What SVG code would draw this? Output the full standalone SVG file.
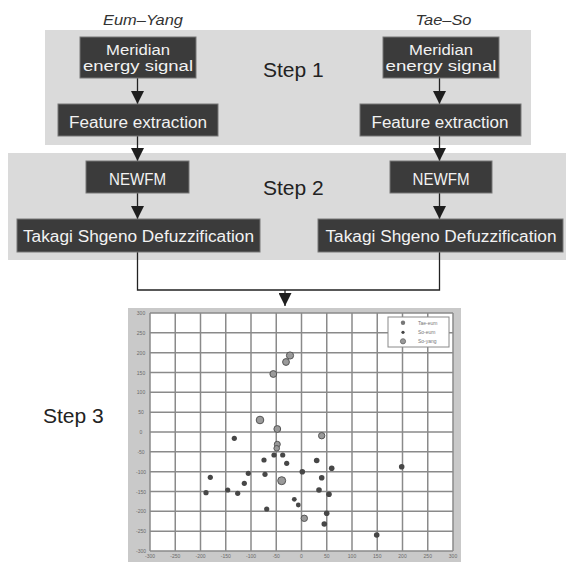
<svg xmlns="http://www.w3.org/2000/svg" width="568" height="563" viewBox="0 0 568 563">
<style>
.panel{fill:#dadada}
.box{fill:#3b3b3b;stroke:#777;stroke-width:1}
.bt{fill:#f2f2f2;font-family:"Liberation Sans",Arial,sans-serif;font-size:16px;text-anchor:middle}
.bt2{fill:#f2f2f2;font-family:"Liberation Sans",Arial,sans-serif;font-size:14px;text-anchor:middle}
.step{fill:#222;font-family:"Liberation Sans",Arial,sans-serif;font-size:21px}
.lab{fill:#333;font-family:"Liberation Sans",Arial,sans-serif;font-size:15px;font-style:italic;text-anchor:middle}
.con{stroke:#222;stroke-width:1.3;fill:none}
.grid{stroke:#8a8a8a;stroke-width:1.5}
.tick{fill:#6a6a6a;font-family:"Liberation Sans",Arial,sans-serif;font-size:5px;text-anchor:middle}
.d{fill:#474747}
.s{fill:#9a9a9a;stroke:#555;stroke-width:1}
.lg{fill:#777;font-family:"Liberation Sans",Arial,sans-serif;font-size:5px}
</style>
<defs>
<marker id="ah" viewBox="0 0 10 10" refX="10" refY="5" markerWidth="13" markerHeight="13" markerUnits="userSpaceOnUse" orient="auto">
<path d="M0,0 L10,5 L0,10 z" fill="#1e1e1e"/>
</marker>
</defs>
<rect width="568" height="563" fill="#fff"/>

<g id="panel-step1"><rect class="panel" x="45" y="30" width="486" height="115"/><text class="step" x="263" y="77">Step 1</text></g>
<g id="panel-step2"><rect class="panel" x="8" y="153" width="558" height="107"/><text class="step" x="263" y="195">Step 2</text></g>
<g id="label-step3"><text class="step" x="43" y="423">Step 3</text></g>

<g id="label-eumyang"><text class="lab" x="143" y="25" textLength="80" lengthAdjust="spacingAndGlyphs">Eum–Yang</text></g>
<g id="label-taeso"><text class="lab" x="443.5" y="25" textLength="56" lengthAdjust="spacingAndGlyphs">Tae–So</text></g>

<g id="connectors">
<line class="con" x1="137.5" y1="78" x2="137.5" y2="104" marker-end="url(#ah)"/>
<line class="con" x1="137.5" y1="136" x2="137.5" y2="161" marker-end="url(#ah)"/>
<line class="con" x1="137.5" y1="193" x2="137.5" y2="219" marker-end="url(#ah)"/>
<line class="con" x1="439.5" y1="78" x2="439.5" y2="104" marker-end="url(#ah)"/>
<line class="con" x1="439.5" y1="136" x2="439.5" y2="161" marker-end="url(#ah)"/>
<line class="con" x1="439.5" y1="193" x2="439.5" y2="219" marker-end="url(#ah)"/>
<polyline class="con" points="137.5,252 137.5,290 439.5,290 439.5,252"/>
<line class="con" x1="285" y1="290" x2="285" y2="306" marker-end="url(#ah)"/>
</g>

<g id="node-meridian-l"><rect class="box" x="80" y="37" width="116" height="41"/>
<text class="bt2" x="138" y="55" textLength="64" lengthAdjust="spacingAndGlyphs">Meridian</text>
<text class="bt2" x="138" y="71" textLength="110" lengthAdjust="spacingAndGlyphs">energy signal</text></g>
<g id="node-feature-l"><rect class="box" x="58" y="104" width="160" height="32"/>
<text class="bt" x="138" y="128" textLength="138" lengthAdjust="spacingAndGlyphs">Feature extraction</text></g>
<g id="node-newfm-l"><rect class="box" x="86" y="161" width="103" height="32"/>
<text class="bt" x="137.5" y="185" textLength="57" lengthAdjust="spacingAndGlyphs">NEWFM</text></g>
<g id="node-takagi-l"><rect class="box" x="17" y="219" width="243" height="33"/>
<text class="bt" x="138.5" y="241.5" textLength="231" lengthAdjust="spacingAndGlyphs">Takagi Shgeno Defuzzification</text></g>

<g id="node-meridian-r"><rect class="box" x="383" y="37" width="116" height="41"/>
<text class="bt2" x="441" y="55" textLength="64" lengthAdjust="spacingAndGlyphs">Meridian</text>
<text class="bt2" x="441" y="71" textLength="111" lengthAdjust="spacingAndGlyphs">energy signal</text></g>
<g id="node-feature-r"><rect class="box" x="360" y="104" width="161" height="32"/>
<text class="bt" x="440" y="128" textLength="137" lengthAdjust="spacingAndGlyphs">Feature extraction</text></g>
<g id="node-newfm-r"><rect class="box" x="390" y="161" width="102" height="32"/>
<text class="bt" x="441" y="185" textLength="57" lengthAdjust="spacingAndGlyphs">NEWFM</text></g>
<g id="node-takagi-r"><rect class="box" x="318" y="219" width="245" height="33"/>
<text class="bt" x="441" y="241.5" textLength="231" lengthAdjust="spacingAndGlyphs">Takagi Shgeno Defuzzification</text></g>

<g id="node-plot">
<rect x="128" y="308" width="333" height="254" fill="#c9c9c9"/>
<rect x="150" y="313" width="303" height="238" fill="#fff"/>
<g class="grid">
<line x1="150" y1="313" x2="150" y2="551"/><line x1="175.25" y1="313" x2="175.25" y2="551"/><line x1="200.5" y1="313" x2="200.5" y2="551"/><line x1="225.75" y1="313" x2="225.75" y2="551"/><line x1="251" y1="313" x2="251" y2="551"/><line x1="276.25" y1="313" x2="276.25" y2="551"/><line x1="301.5" y1="313" x2="301.5" y2="551"/><line x1="326.75" y1="313" x2="326.75" y2="551"/><line x1="352" y1="313" x2="352" y2="551"/><line x1="377.25" y1="313" x2="377.25" y2="551"/><line x1="402.5" y1="313" x2="402.5" y2="551"/><line x1="427.75" y1="313" x2="427.75" y2="551"/><line x1="453" y1="313" x2="453" y2="551"/>
<line x1="150" y1="313" x2="453" y2="313"/><line x1="150" y1="332.8" x2="453" y2="332.8"/><line x1="150" y1="352.7" x2="453" y2="352.7"/><line x1="150" y1="372.5" x2="453" y2="372.5"/><line x1="150" y1="392.3" x2="453" y2="392.3"/><line x1="150" y1="412.2" x2="453" y2="412.2"/><line x1="150" y1="432" x2="453" y2="432"/><line x1="150" y1="451.8" x2="453" y2="451.8"/><line x1="150" y1="471.7" x2="453" y2="471.7"/><line x1="150" y1="491.5" x2="453" y2="491.5"/><line x1="150" y1="511.3" x2="453" y2="511.3"/><line x1="150" y1="531.2" x2="453" y2="531.2"/><line x1="150" y1="551" x2="453" y2="551"/>
</g>
<g class="tick">
<text x="141" y="315">300</text><text x="141" y="334.8">250</text><text x="141" y="354.7">200</text><text x="141" y="374.5">150</text><text x="141" y="394.3">100</text><text x="141" y="414.2">50</text><text x="141" y="434">0</text><text x="141" y="453.8">-50</text><text x="141" y="473.7">-100</text><text x="141" y="493.5">-150</text><text x="141" y="513.3">-200</text><text x="141" y="533.2">-250</text><text x="141" y="553">-300</text>
<text x="150" y="558">-300</text><text x="175.25" y="558">-250</text><text x="200.5" y="558">-200</text><text x="225.75" y="558">-150</text><text x="251" y="558">-100</text><text x="276.25" y="558">-50</text><text x="301.5" y="558">0</text><text x="326.75" y="558">50</text><text x="352" y="558">100</text><text x="377.25" y="558">150</text><text x="402.5" y="558">200</text><text x="427.75" y="558">250</text><text x="453" y="558">300</text>
</g>
<g>
<circle class="s" cx="290" cy="355.5" r="3.6"/><circle class="s" cx="286" cy="362" r="3.4"/><circle class="s" cx="273.3" cy="374" r="3.4"/>
<circle class="s" cx="260" cy="420" r="3.8"/><circle class="s" cx="277.3" cy="429" r="3.4"/><circle class="s" cx="321.7" cy="435.7" r="3.2"/>
<circle class="s" cx="277.3" cy="444.3" r="3"/><circle class="s" cx="276.7" cy="448.3" r="2.8"/>
<circle class="s" cx="281.7" cy="480.7" r="4"/><circle class="s" cx="304.3" cy="518.3" r="3.2"/>
<circle class="d" cx="234.3" cy="438.3" r="2.6"/><circle class="d" cx="274" cy="455" r="2.6"/><circle class="d" cx="282.7" cy="455" r="2.6"/>
<circle class="d" cx="264" cy="460" r="2.6"/><circle class="d" cx="286.7" cy="463.3" r="2.6"/><circle class="d" cx="316.7" cy="460.5" r="2.8"/>
<circle class="d" cx="331.7" cy="468.3" r="2.8"/><circle class="d" cx="302.3" cy="471.7" r="2.8"/><circle class="d" cx="210.3" cy="477.3" r="2.6"/>
<circle class="d" cx="248.3" cy="473.3" r="2.6"/><circle class="d" cx="265" cy="474.3" r="2.6"/><circle class="d" cx="321.7" cy="477.7" r="2.8"/>
<circle class="d" cx="244.3" cy="483.3" r="2.6"/><circle class="d" cx="206" cy="492.7" r="2.6"/><circle class="d" cx="227.7" cy="490" r="2.6"/>
<circle class="d" cx="237.7" cy="493.3" r="2.6"/><circle class="d" cx="319" cy="490" r="2.8"/><circle class="d" cx="329" cy="494.3" r="2.8"/>
<circle class="d" cx="294.3" cy="499.3" r="2.4"/><circle class="d" cx="298.3" cy="505" r="2.4"/><circle class="d" cx="266.7" cy="509" r="2.6"/>
<circle class="d" cx="326.7" cy="513.3" r="2.8"/><circle class="d" cx="324.3" cy="524" r="2.8"/><circle class="d" cx="401.7" cy="466.7" r="2.8"/>
<circle class="d" cx="376.7" cy="535" r="2.8"/>
</g>
<rect x="388" y="317" width="61" height="30" fill="#fff" stroke="#8a8a8a" stroke-width="1"/>
<circle cx="403" cy="322.7" r="2.2" fill="#777"/><circle cx="403" cy="332.3" r="1.6" fill="#444"/><circle cx="403" cy="341.3" r="2.6" fill="#999" stroke="#666" stroke-width="0.8"/>
<text class="lg" x="418" y="324.5">Tae-eum</text><text class="lg" x="418" y="334">So-eum</text><text class="lg" x="418" y="343">So-yang</text>
</g>
</svg>
